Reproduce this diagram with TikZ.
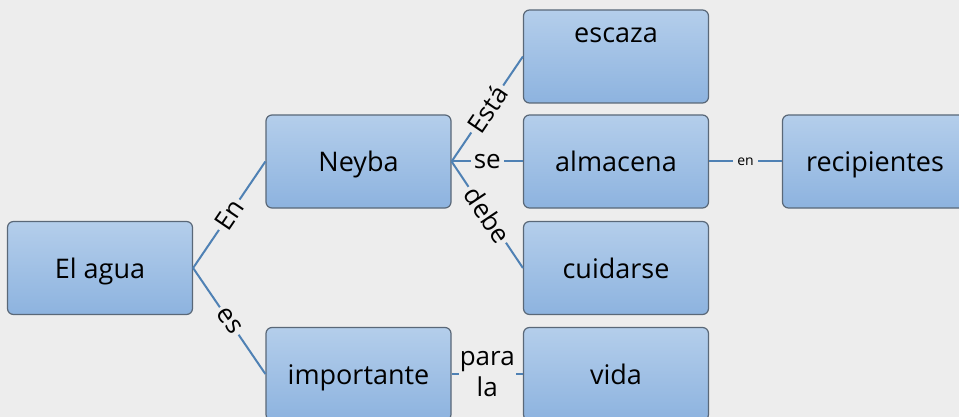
\documentclass[tikz,border=0pt]{standalone}
\usepackage{fontspec}
\setmainfont{Open Sans}
\definecolor{bg}{HTML}{EDEDED}
\definecolor{boxtop}{HTML}{B4CEEB}
\definecolor{boxbot}{HTML}{8DB3DF}
\definecolor{boxline}{HTML}{5A6878}
\definecolor{conn}{HTML}{4F81B4}
\tikzset{
  box/.style={rounded corners=6pt, draw=boxline, line width=1.2pt,
    top color=boxtop, bottom color=boxbot,
    minimum width=185pt, minimum height=93pt, inner sep=4pt,
    text height=26pt, text depth=6pt,
    font=\fontsize{27}{32}\selectfont},
  topbox/.style={box, text height=29pt, text depth=56pt},
  link/.style={draw=conn, line width=2pt},
  lbl/.style={fill=bg, inner sep=3pt, font=\fontsize{26}{31}\selectfont},
  smalllbl/.style={fill=bg, inner sep=4pt, font=\fontsize{14}{17}\selectfont}
}
\begin{document}
\begin{tikzpicture}[x=1pt,y=-1pt]
\fill[bg] (0,0) rectangle (959,417);
\useasboundingbox (0,0) rectangle (959,417);
\clip (0,0) rectangle (959,417);
\node[box] (elagua) at (100,268) {El agua};
\node[box] (neyba) at (358.5,161.5) {Neyba};
\node[topbox] (escaza) at (616,56.5) {escaza};
\node[box] (almacena) at (616,161.5) {almacena};
\node[box] (cuidarse) at (616,268) {cuidarse};
\node[box] (importante) at (358.5,374) {importante};
\node[box] (vida) at (616,374) {vida};
\node[box] (recipientes) at (875,161.5) {recipientes};
\draw[link] (elagua.east) -- node[lbl,sloped]{En} (neyba.west);
\draw[link] (elagua.east) -- node[lbl,sloped]{es} (importante.west);
\draw[link] (neyba.east) -- node[lbl,sloped]{Está} (escaza.west);
\draw[link] (neyba.east) -- node[lbl]{se} (almacena.west);
\draw[link] (neyba.east) -- node[lbl,sloped]{debe} (cuidarse.west);
\draw[link] (almacena.east) -- node[smalllbl]{en} (recipientes.west);
\draw[link] (importante.east) -- node[lbl,align=center,inner sep=1pt]{para\\la} (vida.west);
\end{tikzpicture}
\end{document}
